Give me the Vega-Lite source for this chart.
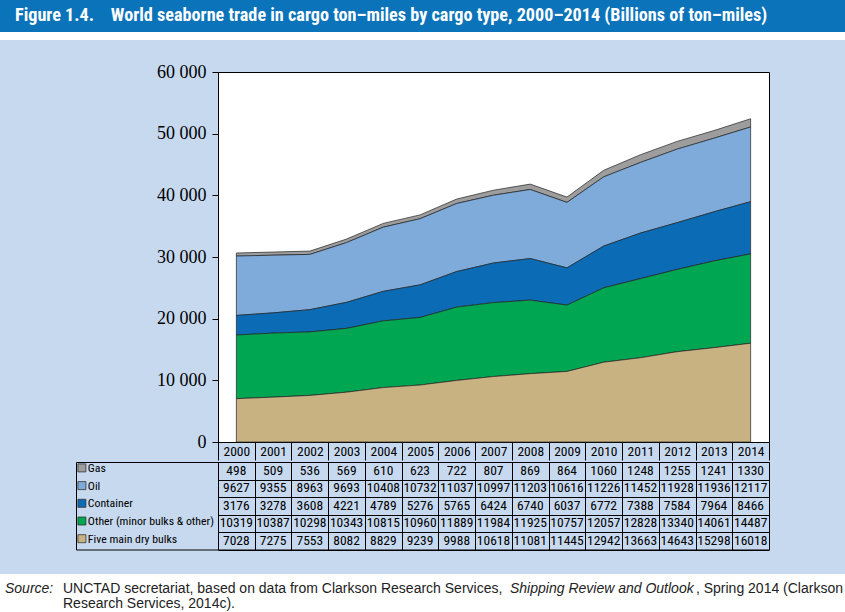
{
  "$schema": "https://vega.github.io/schema/vega-lite/v6.json",
  "background": "#c7d9ef",
  "padding": 0,
  "spacing": 0,
  "bounds": "full",
  "config": {"view": {"stroke": null}, "concat": {"spacing": 0}},
  "datasets": {
    "trade": [
      {"year": 2000, "series": "Gas", "value": 498}, {"year": 2001, "series": "Gas", "value": 509}, {"year": 2002, "series": "Gas", "value": 536}, {"year": 2003, "series": "Gas", "value": 569}, {"year": 2004, "series": "Gas", "value": 610}, {"year": 2005, "series": "Gas", "value": 623}, {"year": 2006, "series": "Gas", "value": 722}, {"year": 2007, "series": "Gas", "value": 807}, {"year": 2008, "series": "Gas", "value": 869}, {"year": 2009, "series": "Gas", "value": 864}, {"year": 2010, "series": "Gas", "value": 1060}, {"year": 2011, "series": "Gas", "value": 1248}, {"year": 2012, "series": "Gas", "value": 1255}, {"year": 2013, "series": "Gas", "value": 1241}, {"year": 2014, "series": "Gas", "value": 1330},
      {"year": 2000, "series": "Oil", "value": 9627}, {"year": 2001, "series": "Oil", "value": 9355}, {"year": 2002, "series": "Oil", "value": 8963}, {"year": 2003, "series": "Oil", "value": 9693}, {"year": 2004, "series": "Oil", "value": 10408}, {"year": 2005, "series": "Oil", "value": 10732}, {"year": 2006, "series": "Oil", "value": 11037}, {"year": 2007, "series": "Oil", "value": 10997}, {"year": 2008, "series": "Oil", "value": 11203}, {"year": 2009, "series": "Oil", "value": 10616}, {"year": 2010, "series": "Oil", "value": 11226}, {"year": 2011, "series": "Oil", "value": 11452}, {"year": 2012, "series": "Oil", "value": 11928}, {"year": 2013, "series": "Oil", "value": 11936}, {"year": 2014, "series": "Oil", "value": 12117},
      {"year": 2000, "series": "Container", "value": 3176}, {"year": 2001, "series": "Container", "value": 3278}, {"year": 2002, "series": "Container", "value": 3608}, {"year": 2003, "series": "Container", "value": 4221}, {"year": 2004, "series": "Container", "value": 4789}, {"year": 2005, "series": "Container", "value": 5276}, {"year": 2006, "series": "Container", "value": 5765}, {"year": 2007, "series": "Container", "value": 6424}, {"year": 2008, "series": "Container", "value": 6740}, {"year": 2009, "series": "Container", "value": 6037}, {"year": 2010, "series": "Container", "value": 6772}, {"year": 2011, "series": "Container", "value": 7388}, {"year": 2012, "series": "Container", "value": 7584}, {"year": 2013, "series": "Container", "value": 7964}, {"year": 2014, "series": "Container", "value": 8466},
      {"year": 2000, "series": "Other (minor bulks & other)", "value": 10319}, {"year": 2001, "series": "Other (minor bulks & other)", "value": 10387}, {"year": 2002, "series": "Other (minor bulks & other)", "value": 10298}, {"year": 2003, "series": "Other (minor bulks & other)", "value": 10343}, {"year": 2004, "series": "Other (minor bulks & other)", "value": 10815}, {"year": 2005, "series": "Other (minor bulks & other)", "value": 10960}, {"year": 2006, "series": "Other (minor bulks & other)", "value": 11889}, {"year": 2007, "series": "Other (minor bulks & other)", "value": 11984}, {"year": 2008, "series": "Other (minor bulks & other)", "value": 11925}, {"year": 2009, "series": "Other (minor bulks & other)", "value": 10757}, {"year": 2010, "series": "Other (minor bulks & other)", "value": 12057}, {"year": 2011, "series": "Other (minor bulks & other)", "value": 12828}, {"year": 2012, "series": "Other (minor bulks & other)", "value": 13340}, {"year": 2013, "series": "Other (minor bulks & other)", "value": 14061}, {"year": 2014, "series": "Other (minor bulks & other)", "value": 14487},
      {"year": 2000, "series": "Five main dry bulks", "value": 7028}, {"year": 2001, "series": "Five main dry bulks", "value": 7275}, {"year": 2002, "series": "Five main dry bulks", "value": 7553}, {"year": 2003, "series": "Five main dry bulks", "value": 8082}, {"year": 2004, "series": "Five main dry bulks", "value": 8829}, {"year": 2005, "series": "Five main dry bulks", "value": 9239}, {"year": 2006, "series": "Five main dry bulks", "value": 9988}, {"year": 2007, "series": "Five main dry bulks", "value": 10618}, {"year": 2008, "series": "Five main dry bulks", "value": 11081}, {"year": 2009, "series": "Five main dry bulks", "value": 11445}, {"year": 2010, "series": "Five main dry bulks", "value": 12942}, {"year": 2011, "series": "Five main dry bulks", "value": 13663}, {"year": 2012, "series": "Five main dry bulks", "value": 14643}, {"year": 2013, "series": "Five main dry bulks", "value": 15298}, {"year": 2014, "series": "Five main dry bulks", "value": 16018}
    ]
  },
  "vconcat": [
    {
      "width": 845, "height": 32,
      "view": {"fill": "#0b73b9", "stroke": null},
      "data": {"values": [{"t": "Figure 1.4.\u00a0\u00a0\u00a0\u00a0World seaborne trade in cargo ton\u2013miles by cargo type, 2000\u20132014 (Billions of ton\u2013miles)"}]},
      "mark": {"type": "text", "align": "left", "baseline": "middle", "dx": 15, "font": "Roboto Condensed", "fontWeight": "bold", "fontSize": 18.2, "color": "white"},
      "encoding": {
        "x": {"datum": 0, "type": "quantitative", "scale": {"domain": [0, 1]}, "axis": null},
        "y": {"datum": 0.5, "type": "quantitative", "scale": {"domain": [0, 1]}, "axis": null},
        "text": {"field": "t"}
      }
    },
    {
      "width": 845, "height": 8,
      "view": {"fill": "white", "stroke": null},
      "data": {"values": []},
      "mark": "point"
    },
    {
      "width": 845, "height": 22,
      "data": {"values": []},
      "mark": "point"
    },
    {
      "bounds": "flush",
      "spacing": 0,
      "hconcat": [
        {"width": 218, "height": 370, "data": {"values": []}, "mark": "point"},
        {
          "width": 551, "height": 370,
          "view": {"fill": "white", "stroke": "black", "strokeWidth": 1},
          "data": {"name": "trade"},
          "transform": [
            {"calculate": "indexof(['Gas', 'Oil', 'Container', 'Other (minor bulks & other)', 'Five main dry bulks'], datum.series)", "as": "stackIdx"}
          ],
          "mark": {"type": "area", "stroke": "#222222", "strokeWidth": 0.7, "opacity": 1},
          "encoding": {
            "x": {
              "field": "year", "type": "ordinal", "bandPosition": 0.5,
              "scale": {"type": "band", "paddingInner": 0, "paddingOuter": 0},
              "axis": {"title": null, "orient": "bottom", "domain": false, "tickBand": "extent", "tickSize": 18, "tickColor": "black", "tickWidth": 1, "labelAngle": 0, "labelFont": "Roboto Condensed", "labelFontSize": 13.5, "labelColor": "black", "labelBaseline": "middle", "labelPadding": -9, "labelOverlap": false, "labelFlush": false}
            },
            "y": {
              "field": "value", "type": "quantitative", "stack": "zero",
              "scale": {"domain": [0, 60000], "nice": false},
              "axis": {"title": null, "values": [0, 10000, 20000, 30000, 40000, 50000, 60000], "grid": false, "domain": false, "tickSize": 6, "tickColor": "black", "labelFont": "Liberation Serif", "labelFontSize": 18, "labelColor": "black", "labelPadding": 6, "labelExpr": "replace(format(datum.value, ','), ',', ' ')"}
            },
            "order": {"field": "stackIdx", "type": "quantitative", "sort": "descending"},
            "color": {
              "field": "series", "type": "nominal",
              "sort": ["Gas", "Oil", "Container", "Other (minor bulks & other)", "Five main dry bulks"],
              "scale": {"domain": ["Gas", "Oil", "Container", "Other (minor bulks & other)", "Five main dry bulks"], "range": ["#9d9d9d", "#7fabdb", "#0b6cb5", "#00a651", "#c9b282"]},
              "legend": {"title": null, "orient": "none", "legendX": 76, "legendY": 462, "padding": 0, "symbolType": "square", "symbolSize": 64, "symbolStrokeColor": "#333333", "symbolStrokeWidth": 0.8, "symbolOpacity": 1, "labelFont": "Roboto Condensed", "labelFontSize": 11.8, "labelColor": "black", "labelOffset": 0, "rowPadding": 4.7}
            }
          }
        }
      ]
    },
    {
      "bounds": "flush",
      "spacing": 0,
      "hconcat": [
        {"width": 76, "height": 87.5, "data": {"values": []}, "mark": "point"},
        {
          "width": 693, "height": 87.5,
          "view": {"stroke": "black", "strokeWidth": 1},
          "data": {"name": "trade"},
          "mark": {"type": "text", "font": "Roboto Condensed", "fontSize": 13.5, "color": "black", "baseline": "middle"},
          "encoding": {
            "x": {
              "field": "year", "type": "ordinal",
              "scale": {"type": "band", "range": [142, 693], "paddingInner": 0, "paddingOuter": 0},
              "axis": {"title": null, "labels": false, "ticks": false, "domain": false, "grid": true, "gridColor": "black", "gridOpacity": 1, "gridWidth": 1, "tickBand": "extent"}
            },
            "y": {
              "field": "series", "type": "nominal",
              "sort": ["Gas", "Oil", "Container", "Other (minor bulks & other)", "Five main dry bulks"],
              "scale": {"type": "band", "paddingInner": 0, "paddingOuter": 0},
              "axis": {"title": null, "labels": false, "ticks": false, "domain": false, "grid": true, "gridColor": "black", "gridOpacity": 1, "gridWidth": 1, "tickBand": "extent"}
            },
            "text": {"field": "value", "type": "quantitative", "format": "d"}
          }
        }
      ]
    },
    {
      "width": 845, "height": 23.5,
      "data": {"values": []},
      "mark": "point"
    },
    {
      "width": 845, "height": 41,
      "view": {"fill": "white", "stroke": null},
      "encoding": {
        "x": {"datum": 0, "type": "quantitative", "scale": {"domain": [0, 1]}, "axis": null},
        "y": {"datum": 1, "type": "quantitative", "scale": {"domain": [0, 1]}, "axis": null},
        "text": {"field": "t"}
      },
      "layer": [
        {
          "data": {"values": [{"t": "Source:"}]},
          "mark": {"type": "text", "align": "left", "baseline": "top", "dx": 5, "dy": 8, "font": "Liberation Sans", "fontStyle": "italic", "fontSize": 14, "color": "#222222"}
        },
        {
          "data": {"values": [{"t": "UNCTAD secretariat, based on data from Clarkson Research Services,\nResearch Services, 2014c)."}]},
          "mark": {"type": "text", "align": "left", "baseline": "top", "dx": 63, "dy": 8, "lineBreak": "\n", "lineHeight": 15, "font": "Liberation Sans", "fontSize": 14, "color": "#222222"}
        },
        {
          "data": {"values": [{"t": "Shipping Review and Outlook"}]},
          "mark": {"type": "text", "align": "left", "baseline": "top", "dx": 510, "dy": 8, "font": "Liberation Sans", "fontStyle": "italic", "fontSize": 14, "color": "#222222"}
        },
        {
          "data": {"values": [{"t": ", Spring 2014 (Clarkson"}]},
          "mark": {"type": "text", "align": "right", "baseline": "top", "dx": 843, "dy": 8, "font": "Liberation Sans", "fontSize": 14, "color": "#222222"}
        }
      ]
    }
  ]
}
